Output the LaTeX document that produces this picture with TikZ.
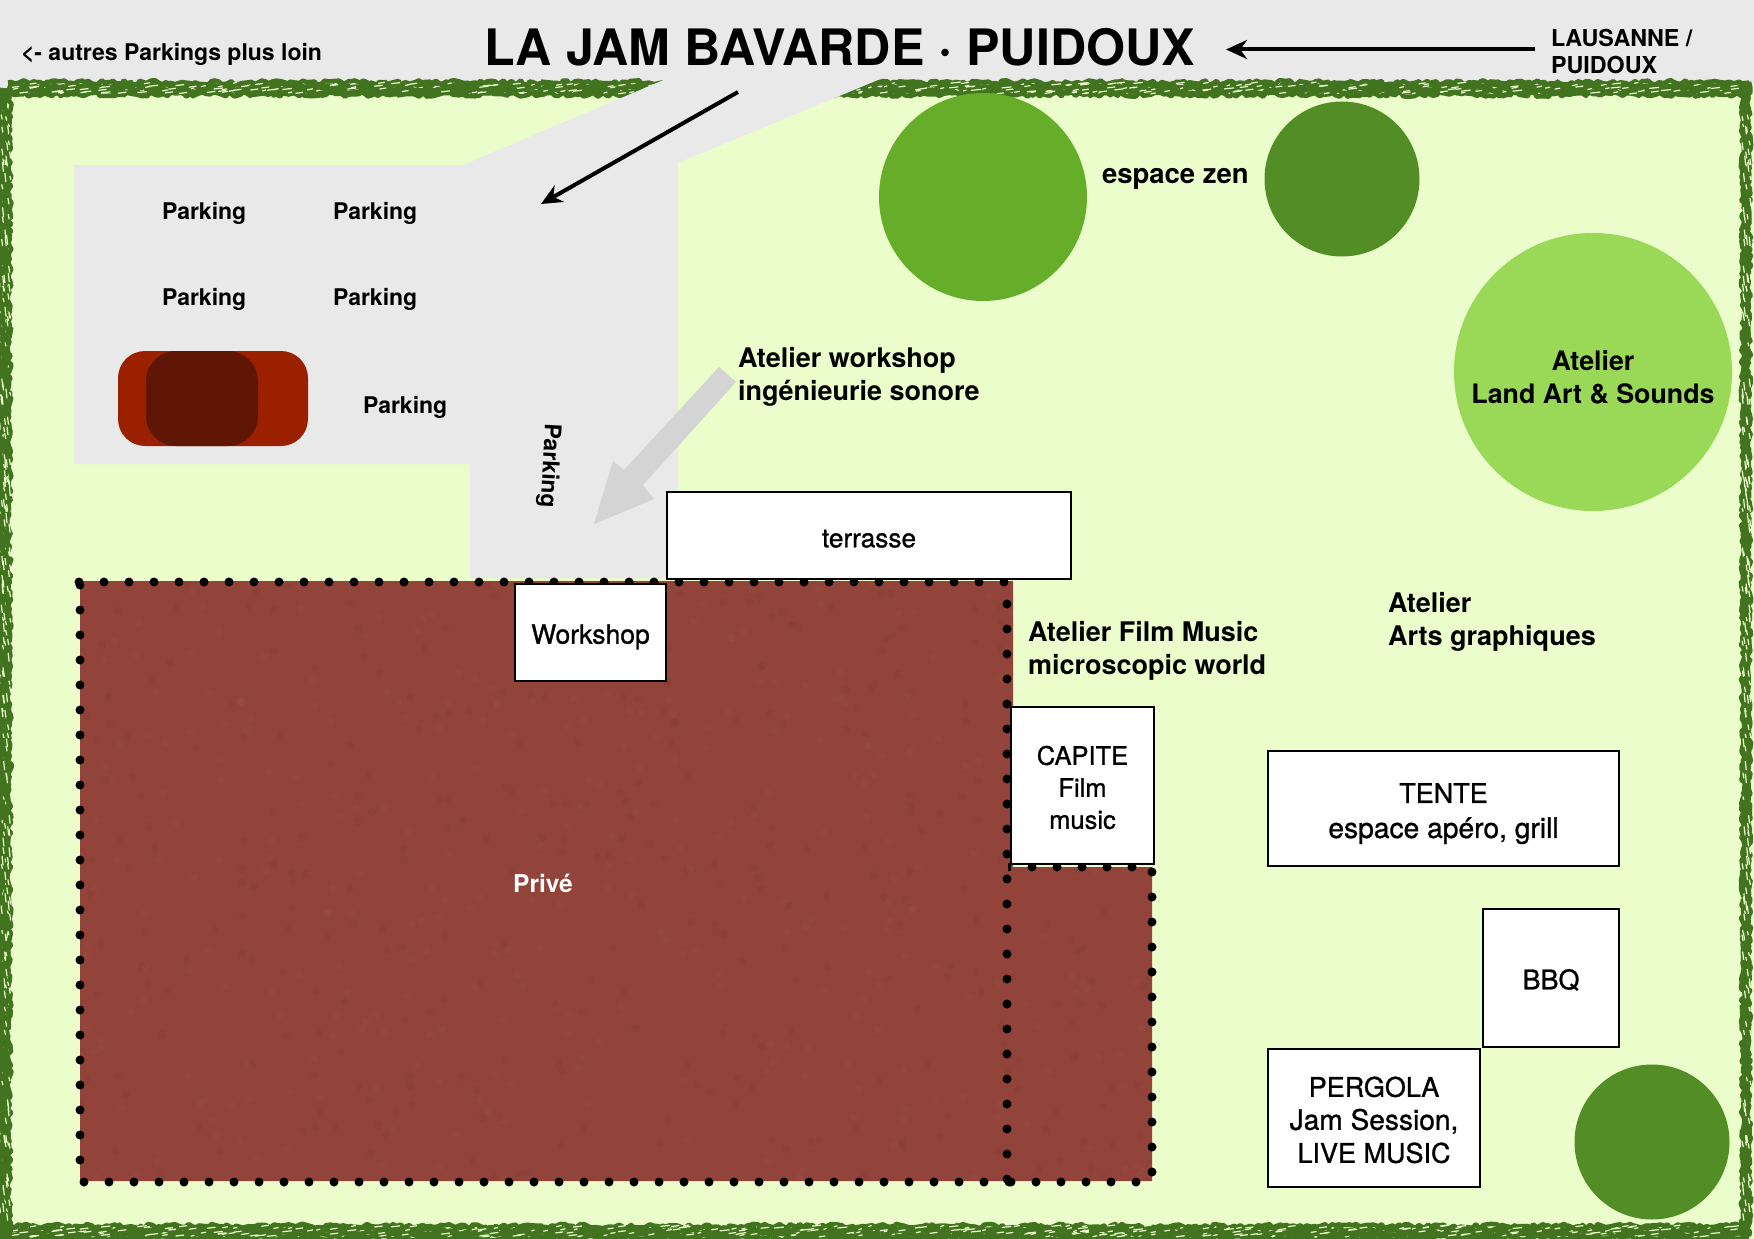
\documentclass[tikz,border=0pt]{standalone}
\usepackage{fontspec}
\setmainfont{TeX Gyre Heros}
\newfontfamily\medfont[FakeBold=1.0]{TeX Gyre Heros}
\usetikzlibrary{arrows.meta,decorations.pathmorphing}
\definecolor{bgray}{HTML}{E9E9E9}
\definecolor{lawn}{HTML}{EBFDCA}
\definecolor{hedge}{HTML}{42741F}
\definecolor{brownp}{HTML}{92433A}
\definecolor{treeA}{HTML}{66AE2A}
\definecolor{treeB}{HTML}{528D26}
\definecolor{treeC}{HTML}{9AD957}
\definecolor{carA}{HTML}{9B2000}
\definecolor{carB}{HTML}{601605}
\definecolor{grayarrow}{HTML}{D4D4D4}
\newcommand{\fs}[2]{\fontsize{#1}{#2}\selectfont}
\newcommand{\dn}[1]{\rule{0pt}{#1pt}}
\tikzset{
  txt/.style={inner sep=0pt,outer sep=0pt},
  bold27/.style={txt,font=\fs{27}{33}\bfseries,align=left},
  bold23/.style={txt,font=\fs{23}{27}\bfseries},
  whitebox/.style={draw=black,fill=white,line width=2.2pt,inner sep=0pt,outer sep=0pt,align=center},
  tree/.style={circle,inner sep=0pt,outer sep=0pt},
  dots/.style={black,line width=9pt,line cap=round,dash pattern=on 0pt off 25pt},
  rough/.style={hedge,line width=4.5pt,line join=bevel,decorate,decoration={random steps,segment length=3.5pt,amplitude=2.2pt}},
  speck/.style={lawn,line width=1.2pt},
  pointer/.style={-{Stealth[length=21pt,width=19pt]},line width=4pt,black},
}
\begin{document}
\begin{tikzpicture}[x=1pt,y=-1pt]
\useasboundingbox (0,0) rectangle (1754,1239);
\fill[bgray] (0,0) rectangle (1754,1239);
\fill[lawn] (0,87) rectangle (1754,1239);
% hedge
\pgfmathsetseed{7}
\foreach \o in {-6,-3,0,3,6}{
  \draw[rough] (8,88.5+\o) -- (1749,88.5+\o);
  \draw[rough] (-2,1232+\o) -- (1749,1232+\o);
  \draw[rough] (4+\o*.9,88) -- (4+\o*.9,1236);
  \draw[rough] (1746+\o*.5,82) -- (1746+\o*.5,1236);
}
\pgfmathsetseed{23}
\foreach \i in {1,...,260}{
  \pgfmathsetmacro{\px}{10+1730*rnd}
  \pgfmathsetmacro{\py}{83+11*rnd}
  \pgfmathsetmacro{\qy}{1226+11*rnd}
  \pgfmathsetmacro{\dx}{3+7*rnd}
  \draw[speck] (\px,\py) -- ++(\dx,-1);
  \draw[speck] (\px,\qy) -- ++(\dx,-1);
}
\foreach \i in {1,...,180}{
  \pgfmathsetmacro{\py}{95+1130*rnd}
  \pgfmathsetmacro{\qx}{1*rnd}
  \pgfmathsetmacro{\px}{1*rnd}
  \pgfmathsetmacro{\dy}{3+7*rnd}
  \draw[speck] (1+9*\px,\py) -- ++(1,\dy);
  \draw[speck] (1742+8*\qx,\py) -- ++(1,\dy);
}
% paved parking and driveway
\fill[bgray] (74,165) -- (463,165) -- (687,70) -- (902,70) -- (678,163) -- (678,578)
  -- (470,578) -- (470,464) -- (74,464) -- cycle;
% trees
\node[tree,fill=treeA,minimum size=208pt] (t1) at (983,197) {};
\node[tree,fill=treeB,minimum size=155pt] (t2) at (1342,179) {};
\node[tree,fill=treeC,minimum size=278pt,font=\fs{26.8}{33}\bfseries,align=center] (t3) at (1593,372) {\dn{31}Atelier\\Land Art \& Sounds};
\node[tree,fill=treeB,minimum size=155pt] (t4) at (1652,1142) {};
% car
\fill[carA,rounded corners=27pt] (118,351) rectangle (308,446);
\fill[carB,rounded corners=30pt] (146,351) rectangle (258,446);
% private ground
\begin{scope}
\path[clip] (80,581) -- (1013,581) -- (1013,867) -- (1152,867) -- (1152,1181) -- (80,1181) -- cycle;
\fill[brownp] (70,570) rectangle (1160,1190);
\pgfmathsetseed{11}
\foreach \i in {1,...,700}{
  \pgfmathsetmacro{\px}{80+1072*rnd}
  \pgfmathsetmacro{\py}{581+600*rnd}
  \pgfmathsetmacro{\pc}{rnd>.5?1:0}
  \ifdim\pc pt>0.5pt
    \fill[white,opacity=.025] (\px,\py) circle (4pt);
  \else
    \fill[black,opacity=.025] (\px,\py) circle (4pt);
  \fi
}
\end{scope}
% dotted limits
\draw[dots] (80,585) -- (80,1161);
\draw[dots] (84,1182) -- (1010,1182);
\draw[dots] (79,582) -- (1005,582);
\draw[dots] (1007,604) -- (1007,1180);
\draw[dots] (1011,1182) -- (1137,1182);
\draw[dots] (1152,872) -- (1152,1173);
\draw[dots] (1032,867) -- (1133,867);
\draw[black,line width=3pt] (1009,863) -- (1009,871);
% buildings
\node[whitebox,font=\medfont\fs{26.2}{30},minimum width=404pt,minimum height=87pt] (terrasse) at (869,535.5) {\dn{24}terrasse};
\node[whitebox,font=\medfont\fs{26.5}{31},minimum width=151pt,minimum height=97pt] (workshop) at (590.5,632.5) {\dn{28}Workshop};
\node[whitebox,font=\medfont\fs{25.5}{32},minimum width=143pt,minimum height=157pt] (capite) at (1082.5,785.5) {\dn{23}CAPITE\\Film\\music};
\node[whitebox,font=\medfont\fs{27}{35},minimum width=351pt,minimum height=115pt] (tente) at (1443.5,808.5) {\dn{30}TENTE\\\fs{28.2}{35}espace apéro, grill};
\node[whitebox,font=\medfont\fs{27}{33},minimum width=136pt,minimum height=138pt] (bbq) at (1551,978) {\dn{24}BBQ};
\node[whitebox,font=\medfont\fs{27}{33},minimum width=212pt,minimum height=138pt] (pergola) at (1374,1118) {\dn{24}PERGOLA\\\fs{28.1}{33}Jam Session,\\\fs{27}{33}LIVE MUSIC};
% large grey arrow
\fill[grayarrow] (719,367) -- (736,382) -- (643,485) -- (654,499) -- (594,524) -- (613,461) -- (624,470) -- cycle;
% labels
\node[txt,font=\fs{50.2}{55}\bfseries,anchor=base] (title) at (840,66) {LA JAM BAVARDE · PUIDOUX};
\node[bold23,anchor=base west] (autres) at (21,60) {<- autres Parkings plus loin};
\node[txt,font=\fs{23.3}{27}\bfseries,align=left,anchor=north west] (lausanne) at (1551,29) {LAUSANNE /\\PUIDOUX};
\node[bold23,anchor=base west] (p1) at (162,219) {Parking};
\node[bold23,anchor=base west] (p2) at (333,219) {Parking};
\node[bold23,anchor=base west] (p3) at (162,305) {Parking};
\node[bold23,anchor=base west] (p4) at (333,305) {Parking};
\node[bold23,anchor=base west] (p5) at (363,413) {Parking};
\node[bold23,rotate=-93] (p6) at (549,466) {Parking};
\node[txt,font=\fs{27.5}{33}\bfseries,anchor=base west] (zen) at (1102,183) {espace zen};
\node[bold27,anchor=north west] (a1) at (738,347) {Atelier workshop\\ingénieurie sonore};
\node[bold27,anchor=north west] (a2) at (1028,621.5) {Atelier Film Music\\microscopic world};
\node[bold27,anchor=north west] (a3) at (1388,592.5) {Atelier\\Arts graphiques};
\node[txt,font=\fs{24.5}{28}\bfseries,text=white,anchor=base] (prive) at (543,892) {Privé};
% black arrows
\coordinate (d1s) at (738,92);
\coordinate (d1e) at (541,204);
\coordinate (d2s) at (1535,49.5);
\coordinate (d2e) at (1226,49.5);
\draw[pointer] (d1s) -- (d1e);
\draw[pointer] (d2s) -- (d2e);
\end{tikzpicture}
\end{document}
